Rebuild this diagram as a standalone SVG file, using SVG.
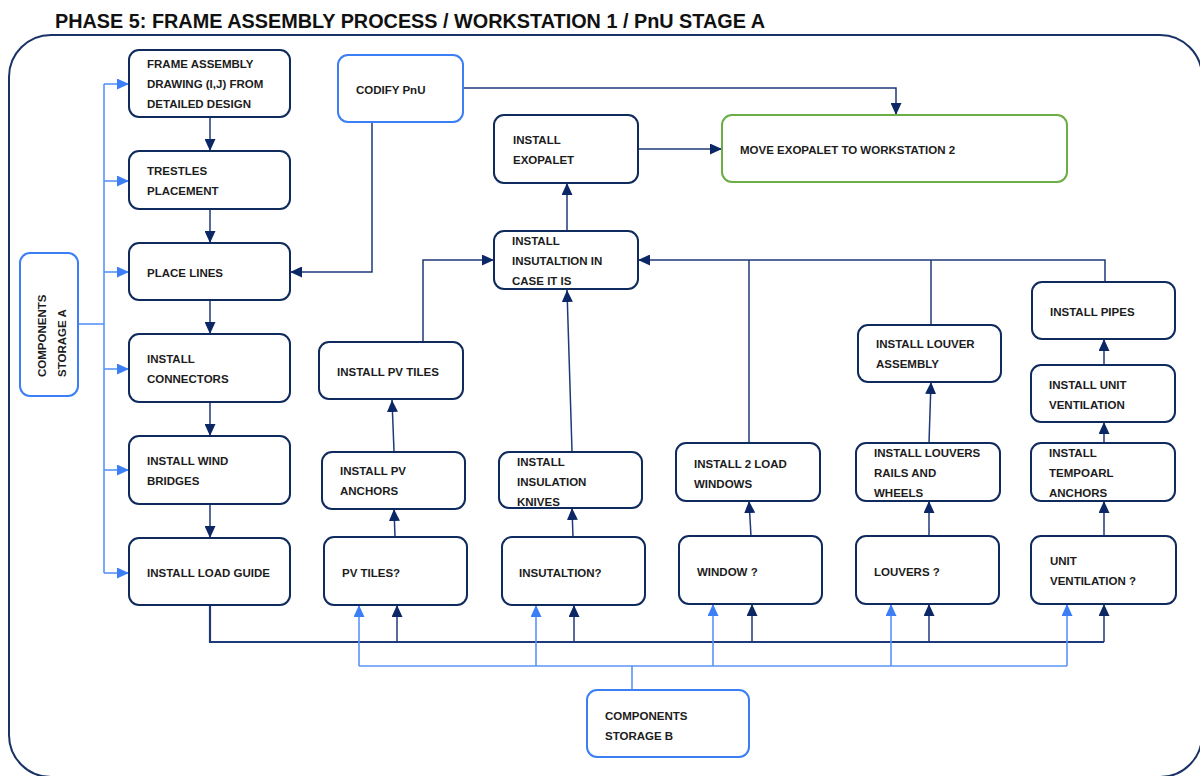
<svg xmlns="http://www.w3.org/2000/svg" width="1200" height="776" viewBox="0 0 1200 776">
  <style>
    .box { fill: #ffffff; stroke: #0f2a5c; stroke-width: 2; }
    .src { fill: #ffffff; stroke: #3c7ef5; stroke-width: 2; }
    .end { fill: #ffffff; stroke: #6aae45; stroke-width: 2; }
    .t { font-family: "Liberation Sans", Arial, sans-serif; font-weight: bold; font-size: 11.5px; fill: #1c1c1c; }
    .title { font-family: "Liberation Sans", Arial, sans-serif; font-weight: bold; font-size: 20px; fill: #111111; }
    .nav { fill: none; stroke: #1f3a78; stroke-width: 1.5; }
    .navA { fill: none; stroke: #1f3a78; stroke-width: 1.5; marker-end: url(#arrN); }
    .bus { fill: none; stroke: #1f3a78; stroke-width: 2.2; }
    .blu { fill: none; stroke: #5a94f8; stroke-width: 1.6; }
    .bluA { fill: none; stroke: #5a94f8; stroke-width: 1.6; marker-end: url(#arrB); }
  </style>
  <defs>
    <marker id="arrN" markerUnits="userSpaceOnUse" markerWidth="12" markerHeight="11" refX="12" refY="5.5" orient="auto">
      <path d="M0,0 L12,5.5 L0,11 Z" fill="#0c2766"/>
    </marker>
    <marker id="arrB" markerUnits="userSpaceOnUse" markerWidth="12" markerHeight="11" refX="12" refY="5.5" orient="auto">
      <path d="M0,0 L12,5.5 L0,11 Z" fill="#3c7ef5"/>
    </marker>
  </defs>

  <rect width="1200" height="776" fill="#ffffff"/>

  <!-- heading and workstation frame -->
  <text class="title" x="55" y="28" textLength="710" lengthAdjust="spacingAndGlyphs">PHASE 5: FRAME ASSEMBLY PROCESS / WORKSTATION 1 / PnU STAGE A</text>
  <rect x="9" y="35" width="1193" height="742" rx="42" fill="none" stroke="#1a3366" stroke-width="2"/>

  <!-- connectors -->
  <g id="connectors">
    <!-- storage A feed -->
    <path class="blu" d="M78,324 H104"/>
    <path class="blu" d="M104,84 V573"/>
    <path class="bluA" d="M104,84 H129"/>
    <path class="bluA" d="M104,181 H129"/>
    <path class="bluA" d="M104,272 H129"/>
    <path class="bluA" d="M104,369 H129"/>
    <path class="bluA" d="M104,470 H129"/>
    <path class="bluA" d="M104,573 H129"/>

    <!-- main left sequence -->
    <path class="navA" d="M210,117 V151"/>
    <path class="navA" d="M210,209 V243"/>
    <path class="navA" d="M210,300 V334"/>
    <path class="navA" d="M210,402 V436"/>
    <path class="navA" d="M210,504 V538"/>

    <!-- codify -->
    <path class="navA" d="M463,88 H896 V115"/>
    <path class="navA" d="M372,122 V272 H290"/>

    <!-- exopalet -->
    <path class="navA" d="M638,149 H722"/>
    <path class="navA" d="M567,231 V183"/>

    <!-- collectors into insulation in case -->
    <path class="navA" d="M423,342 V260 H494"/>
    <path class="navA" d="M1105,282 V260 H638"/>
    <path class="nav" d="M749,443 V260"/>
    <path class="nav" d="M931,325 V260"/>

    <!-- column chains -->
    <path class="navA" d="M572,451 L567,290"/>
    <path class="navA" d="M394,451 L392,400"/>
    <path class="navA" d="M395,537 L394,509"/>
    <path class="navA" d="M573,537 L572,508"/>
    <path class="navA" d="M751,536 L749,501"/>
    <path class="navA" d="M929,536 V501"/>
    <path class="navA" d="M929,443 L931,382"/>
    <path class="navA" d="M1104,536 V501"/>
    <path class="navA" d="M1104,443 V422"/>
    <path class="navA" d="M1104,365 V339"/>

    <!-- load guide distribution bus -->
    <path class="bus" d="M210,605 V642 H1104"/>
    <path class="navA" d="M397,642 V605"/>
    <path class="navA" d="M574,642 V605"/>
    <path class="navA" d="M752,642 V604"/>
    <path class="navA" d="M929,642 V604"/>
    <path class="navA" d="M1104,642 V604"/>

    <!-- storage B distribution bus -->
    <path class="blu" d="M632,690 V666"/>
    <path class="blu" d="M359,666 H1067"/>
    <path class="bluA" d="M359,666 V605"/>
    <path class="bluA" d="M536,666 V605"/>
    <path class="bluA" d="M713,666 V604"/>
    <path class="bluA" d="M891,666 V604"/>
    <path class="bluA" d="M1067,666 V604"/>
  </g>

  <!-- nodes -->
  <g id="storage-a">
    <rect class="src" x="20" y="253" width="58" height="143" rx="10"/>
    <text class="t" transform="translate(46,377) rotate(-90)">COMPONENTS</text>
    <text class="t" transform="translate(66,377) rotate(-90)">STORAGE A</text>
  </g>

  <g id="frame-drawing">
    <rect class="box" x="129" y="50" width="161" height="67" rx="10"/>
    <text class="t" x="147" y="68">FRAME ASSEMBLY</text>
    <text class="t" x="147" y="88">DRAWING (I,J) FROM</text>
    <text class="t" x="147" y="108">DETAILED DESIGN</text>
  </g>

  <g id="trestles">
    <rect class="box" x="129" y="151" width="161" height="58" rx="10"/>
    <text class="t" x="147" y="175">TRESTLES</text>
    <text class="t" x="147" y="195">PLACEMENT</text>
  </g>

  <g id="place-lines">
    <rect class="box" x="129" y="243" width="161" height="57" rx="10"/>
    <text class="t" x="147" y="277">PLACE LINES</text>
  </g>

  <g id="connectors-node">
    <rect class="box" x="129" y="334" width="161" height="68" rx="10"/>
    <text class="t" x="147" y="363">INSTALL</text>
    <text class="t" x="147" y="383">CONNECTORS</text>
  </g>

  <g id="wind-bridges">
    <rect class="box" x="129" y="436" width="161" height="68" rx="10"/>
    <text class="t" x="147" y="465">INSTALL WIND</text>
    <text class="t" x="147" y="485">BRIDGES</text>
  </g>

  <g id="load-guide">
    <rect class="box" x="129" y="538" width="161" height="67" rx="10"/>
    <text class="t" x="147" y="577">INSTALL LOAD GUIDE</text>
  </g>

  <g id="codify">
    <rect class="src" x="338" y="55" width="125" height="67" rx="10"/>
    <text class="t" x="356" y="94">CODIFY PnU</text>
  </g>

  <g id="exopalet">
    <rect class="box" x="494" y="115" width="144" height="68" rx="10"/>
    <text class="t" x="513" y="144">INSTALL</text>
    <text class="t" x="513" y="164">EXOPALET</text>
  </g>

  <g id="move">
    <rect class="end" x="722" y="115" width="345" height="67" rx="10"/>
    <text class="t" x="740" y="154">MOVE EXOPALET TO WORKSTATION 2</text>
  </g>

  <g id="insulation-case">
    <rect class="box" x="494" y="231" width="144" height="58" rx="10"/>
    <text class="t" x="512" y="245">INSTALL</text>
    <text class="t" x="512" y="265">INSUTALTION IN</text>
    <text class="t" x="512" y="285">CASE IT IS</text>
  </g>

  <g id="pv-tiles">
    <rect class="box" x="319" y="342" width="144" height="57" rx="10"/>
    <text class="t" x="337" y="376">INSTALL PV TILES</text>
  </g>

  <g id="pv-anchors">
    <rect class="box" x="322" y="452" width="143" height="57" rx="10"/>
    <text class="t" x="340" y="475">INSTALL PV</text>
    <text class="t" x="340" y="495">ANCHORS</text>
  </g>

  <g id="insulation-knives">
    <rect class="box" x="499" y="452" width="143" height="56" rx="10"/>
    <text class="t" x="517" y="466">INSTALL</text>
    <text class="t" x="517" y="486">INSULATION</text>
    <text class="t" x="517" y="506">KNIVES</text>
  </g>

  <g id="load-windows">
    <rect class="box" x="676" y="443" width="144" height="58" rx="10"/>
    <text class="t" x="694" y="468">INSTALL 2 LOAD</text>
    <text class="t" x="694" y="488">WINDOWS</text>
  </g>

  <g id="louver-assembly">
    <rect class="box" x="858" y="325" width="143" height="57" rx="10"/>
    <text class="t" x="876" y="348">INSTALL LOUVER</text>
    <text class="t" x="876" y="368">ASSEMBLY</text>
  </g>

  <g id="louver-rails">
    <rect class="box" x="856" y="443" width="144" height="58" rx="10"/>
    <text class="t" x="874" y="457">INSTALL LOUVERS</text>
    <text class="t" x="874" y="477">RAILS AND</text>
    <text class="t" x="874" y="497">WHEELS</text>
  </g>

  <g id="pipes">
    <rect class="box" x="1032" y="282" width="143" height="57" rx="10"/>
    <text class="t" x="1050" y="316">INSTALL PIPES</text>
  </g>

  <g id="unit-ventilation">
    <rect class="box" x="1031" y="365" width="144" height="57" rx="10"/>
    <text class="t" x="1049" y="389">INSTALL UNIT</text>
    <text class="t" x="1049" y="409">VENTILATION</text>
  </g>

  <g id="temporal-anchors">
    <rect class="box" x="1031" y="443" width="144" height="58" rx="10"/>
    <text class="t" x="1049" y="457">INSTALL</text>
    <text class="t" x="1049" y="477">TEMPOARL</text>
    <text class="t" x="1049" y="497">ANCHORS</text>
  </g>

  <g id="q-pv">
    <rect class="box" x="324" y="537" width="143" height="68" rx="10"/>
    <text class="t" x="342" y="577">PV TILES?</text>
  </g>

  <g id="q-insulation">
    <rect class="box" x="502" y="537" width="143" height="68" rx="10"/>
    <text class="t" x="519" y="577">INSUTALTION?</text>
  </g>

  <g id="q-window">
    <rect class="box" x="679" y="536" width="143" height="68" rx="10"/>
    <text class="t" x="697" y="576">WINDOW ?</text>
  </g>

  <g id="q-louvers">
    <rect class="box" x="856" y="536" width="143" height="68" rx="10"/>
    <text class="t" x="874" y="576">LOUVERS ?</text>
  </g>

  <g id="q-unit-ventilation">
    <rect class="box" x="1031" y="536" width="145" height="68" rx="10"/>
    <text class="t" x="1050" y="565">UNIT</text>
    <text class="t" x="1050" y="585">VENTILATION ?</text>
  </g>

  <g id="storage-b">
    <rect class="src" x="587" y="690" width="162" height="67" rx="10"/>
    <text class="t" x="605" y="720">COMPONENTS</text>
    <text class="t" x="605" y="740">STORAGE B</text>
  </g>
</svg>
